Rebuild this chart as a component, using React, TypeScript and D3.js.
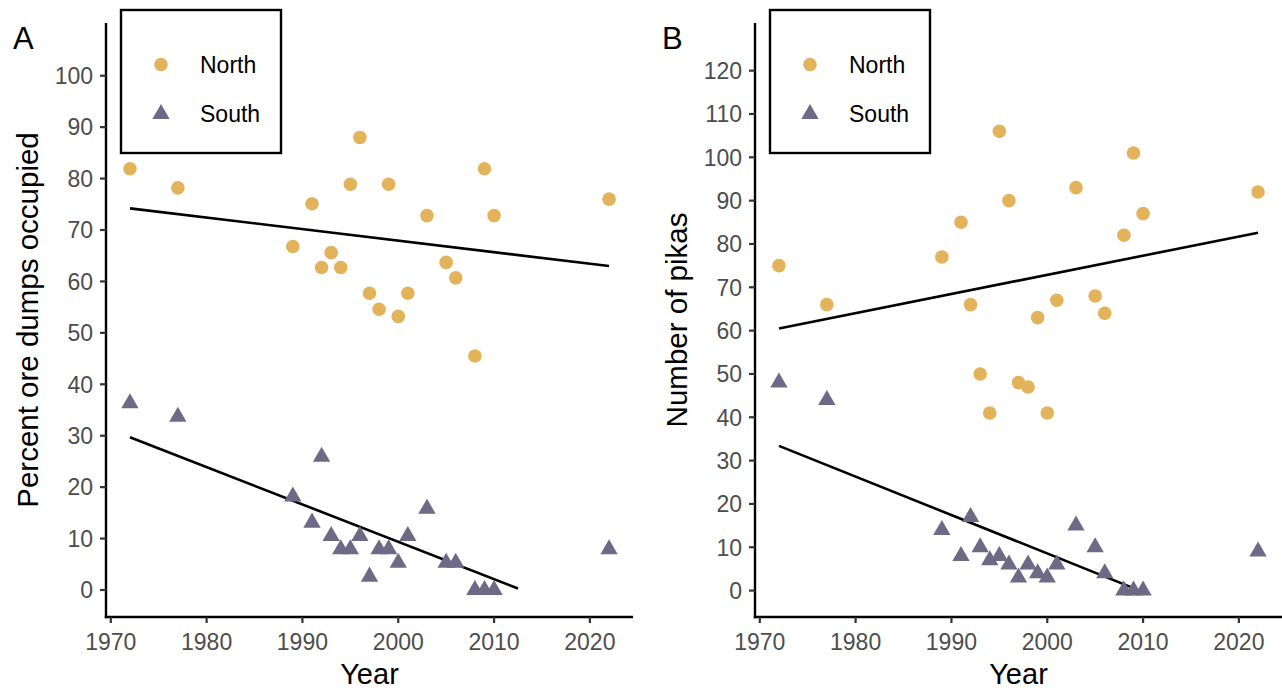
import React from 'react';
import * as d3 from 'd3';

const years = [1972, 1977, 1989, 1991, 1992, 1993, 1994, 1995, 1996, 1997, 1998, 1999, 2000, 2001, 2003, 2005, 2006, 2008, 2009, 2010, 2022];
const pctNorth = [81.9, 78.2, 66.8, 75.1, 62.7, 65.6, 62.7, 78.9, 88.0, 57.7, 54.6, 78.9, 53.2, 57.7, 72.8, 63.7, 60.7, 45.5, 81.9, 72.8, 76.0];
const pctSouth = [36.3, 33.7, 18.2, 13.1, 25.9, 10.5, 7.9, 7.9, 10.5, 2.6, 7.9, 7.9, 5.3, 10.5, 15.8, 5.3, 5.3, 0, 0, 0, 7.9];
const pikasNorth = [75, 66, 77, 85, 66, 50, 41, 106, 90, 48, 47, 63, 41, 67, 93, 68, 64, 82, 101, 87, 92];
const pikasSouth = [48, 44, 14, 8, 17, 10, 7, 8, 6, 3, 6, 4, 3, 6, 15, 10, 4, 0, 0, 0, 9];

// fitted trend lines: [year, value] endpoints
const fitPctNorth: [number, number][] = [[1972, 74.2], [2022, 63.0]];
const fitPctSouth: [number, number][] = [[1972, 29.7], [2012.5, 0.3]];
const fitPikasNorth: [number, number][] = [[1972, 60.5], [2022, 82.6]];
const fitPikasSouth: [number, number][] = [[1972, 33.4], [2009.2, 0.4]];

const xTicks = [1970, 1980, 1990, 2000, 2010, 2020];
const pctTicks = [0, 10, 20, 30, 40, 50, 60, 70, 80, 90, 100];
const pikaTicks = [0, 10, 20, 30, 40, 50, 60, 70, 80, 90, 100, 110, 120];
const seriesNames = ['North', 'South'];

const NORTH = '#E2B35A';
const SOUTH = '#6E6985';
const FONT = 'Liberation Sans, Arial, Helvetica, sans-serif';
const TICK_COL = '#4D4D4D';

const triPath = d3.symbol().type(d3.symbolTriangle).size(130)() as string;

type PanelProps = {
  label: string;
  left: number;
  right: number;
  yDomain: [number, number];
  yTicks: number[];
  north: number[];
  south: number[];
  fitN: [number, number][];
  fitS: [number, number][];
  yTitle: string;
};

const TOP = 23;
const BOTTOM = 617;

function Panel(p: PanelProps) {
  const x = d3.scaleLinear().domain([1969.5, 2024.5]).range([p.left, p.right]);
  const y = d3.scaleLinear().domain(p.yDomain).range([BOTTOM, TOP]);
  const line = d3.line<[number, number]>().x(d => x(d[0])).y(d => y(d[1]));
  const lx = p.left + 15;
  return (
    <g>
      {/* trend lines */}
      <path d={line(p.fitN) || ''} stroke="#000" strokeWidth={2.6} fill="none" />
      <path d={line(p.fitS) || ''} stroke="#000" strokeWidth={2.6} fill="none" />
      {/* points */}
      {years.map((yr, i) => (
        <circle key={'n' + i} cx={x(yr)} cy={y(p.north[i])} r={6.8} fill={NORTH} />
      ))}
      {years.map((yr, i) => (
        <path key={'s' + i} d={triPath} transform={`translate(${x(yr)},${y(p.south[i])})`} fill={SOUTH} />
      ))}
      {/* axes */}
      <line x1={p.left} x2={p.left} y1={TOP} y2={BOTTOM + 1.2} stroke="#000" strokeWidth={2.4} />
      <line x1={p.left - 1.2} x2={p.right} y1={BOTTOM} y2={BOTTOM} stroke="#000" strokeWidth={2.4} />
      {p.yTicks.map(t => (
        <g key={'yt' + t}>
          <line x1={p.left - 6} x2={p.left} y1={y(t)} y2={y(t)} stroke="#333" strokeWidth={2.2} />
          <text x={p.left - 13} y={y(t)} dy="0.36em" textAnchor="end" fontSize={23} fill={TICK_COL} fontFamily={FONT}>{t}</text>
        </g>
      ))}
      {xTicks.map(t => (
        <g key={'xt' + t}>
          <line x1={x(t)} x2={x(t)} y1={BOTTOM} y2={BOTTOM + 6} stroke="#333" strokeWidth={2.2} />
          <text x={x(t)} y={649.5} textAnchor="middle" fontSize={23} fill={TICK_COL} fontFamily={FONT}>{t}</text>
        </g>
      ))}
      <text x={(p.left + p.right) / 2} y={684} textAnchor="middle" fontSize={29} fill="#000" fontFamily={FONT}>Year</text>
      <text transform={`translate(${p.left - 68},${(TOP + BOTTOM) / 2}) rotate(-90)`} textAnchor="middle" fontSize={29.5} fill="#000" fontFamily={FONT}>{p.yTitle}</text>
      {/* panel tag */}
      <text x={p.left - 93} y={49} fontSize={31} fill="#000" fontFamily={FONT}>{p.label}</text>
      {/* legend */}
      <rect x={lx} y={10} width={160} height={143} fill="#fff" stroke="#000" strokeWidth={2.4} />
      <circle cx={lx + 40} cy={64.5} r={6.8} fill={NORTH} />
      <path d={triPath} transform={`translate(${lx + 40},${114})`} fill={SOUTH} />
      <text x={lx + 79} y={64.5} dy="0.36em" fontSize={23} fill="#000" fontFamily={FONT}>{seriesNames[0]}</text>
      <text x={lx + 79} y={114} dy="0.36em" fontSize={23} fill="#000" fontFamily={FONT}>{seriesNames[1]}</text>
    </g>
  );
}

export default function App() {
  return (
    <svg width={1282} height={690} style={{ position: 'absolute', left: 0, top: 0, display: 'block', background: '#fff' }}>
      <rect x={0} y={0} width={1282} height={690} fill="#fff" />
      <Panel label="A" left={106} right={633} yDomain={[-5.25, 110.25]} yTicks={pctTicks}
        north={pctNorth} south={pctSouth} fitN={fitPctNorth} fitS={fitPctSouth} yTitle="Percent ore dumps occupied" />
      <Panel label="B" left={755} right={1282} yDomain={[-6.1, 131]} yTicks={pikaTicks}
        north={pikasNorth} south={pikasSouth} fitN={fitPikasNorth} fitS={fitPikasSouth} yTitle="Number of pikas" />
    </svg>
  );
}
